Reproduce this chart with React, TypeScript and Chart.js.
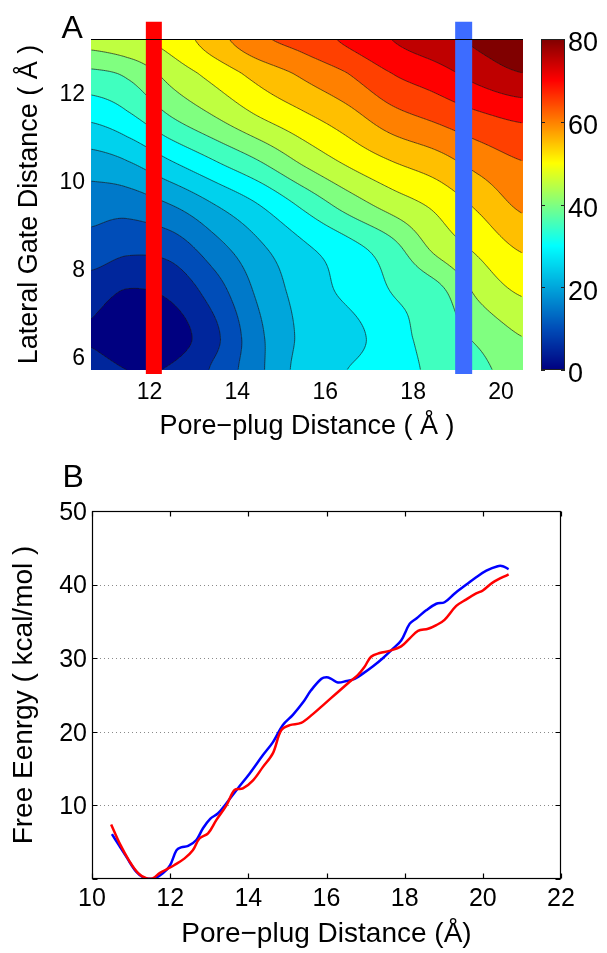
import React, { useEffect, useRef } from 'react';
import { Chart, registerables } from 'chart.js';

Chart.register(...registerables);

const FONT = "'Liberation Sans', Arial, Helvetica, sans-serif";

// ---------------- Panel A: free-energy surface ----------------
const poreGrid = [10.67, 11.5, 12.5, 13.5, 14.5, 15.5, 16.5, 17.5, 18.5, 19.5, 20.5];
const gateGrid = [13.27, 12.5, 11.5, 10.5, 9.5, 8.5, 7.5, 6.5, 5.75];
const energyRow1327 = [47, 49, 52, 58, 64, 67, 71, 75, 78, 81, 83];
const energyRow125 = [39, 41, 47, 52, 57, 61, 65, 70, 73, 77, 80];
const energyRow115 = [31, 34, 40, 45, 50, 54, 58, 63, 66, 69, 71];
const energyRow105 = [23, 25, 30, 35, 40, 46, 51, 55, 58, 62, 65];
const energyRow95 = [17, 17, 20, 25, 30, 36, 42, 47, 51, 56, 61];
const energyRow85 = [13, 11, 12, 18, 24, 29, 33, 38, 46, 51, 55.5];
const energyRow75 = [7, 4.5, 6, 12.5, 21, 27, 31, 35, 38, 46, 50.5];
const energyRow65 = [4.5, 1.5, 2.5, 9, 19, 26, 28, 33, 37, 41, 45];
const energyRow575 = [7, 5, 5.5, 11, 19, 27, 30, 33, 36, 39, 42];
const energySurface = [
  energyRow1327, energyRow125, energyRow115, energyRow105, energyRow95,
  energyRow85, energyRow75, energyRow65, energyRow575,
];
const contourStep = 5;
const colorMax = 80;
const slicePositions = [12.1, 19.15];
const sliceColors = ['#ff0000', '#3d6cff'];
const sliceTop = 13.66;
const sliceBottom = 5.66;
const topXTicks = [12, 14, 16, 18, 20];
const topYTicks = [6, 8, 10, 12];
const colorbarTicks = [0, 20, 40, 60, 80];

// ---------------- Panel B: 1-D free-energy profiles ----------------
const blueX = [10.51, 10.7, 10.88, 11.13, 11.35, 11.56, 11.82, 12.0, 12.16, 12.28, 12.46, 12.67, 12.84, 13.03, 13.22, 13.44, 13.73, 14.03, 14.37, 14.63, 14.88, 15.14, 15.4, 15.6, 15.87, 16.0, 16.12, 16.29, 16.51, 16.72, 16.93, 17.19, 17.44, 17.7, 17.91, 18.13, 18.3, 18.55, 18.81, 19.02, 19.28, 19.58, 19.83, 20.09, 20.38, 20.51, 20.66];
const blueY = [6.1, 4.5, 3.0, 1.0, 0.1, 0.0, 0.8, 1.9, 3.9, 4.3, 4.5, 5.3, 6.9, 8.2, 8.9, 10.3, 12.3, 14.3, 16.8, 18.6, 20.9, 22.3, 24.0, 25.6, 27.2, 27.4, 27.2, 26.7, 26.9, 27.2, 27.9, 28.9, 30.0, 31.3, 32.4, 34.7, 35.4, 36.5, 37.4, 37.6, 38.8, 40.0, 41.0, 41.9, 42.5, 42.5, 42.1];
const redX = [10.49, 10.71, 10.96, 11.18, 11.39, 11.56, 11.73, 11.94, 12.11, 12.37, 12.58, 12.75, 12.97, 13.18, 13.44, 13.65, 13.86, 14.12, 14.37, 14.63, 14.84, 15.06, 15.35, 15.65, 15.95, 16.25, 16.55, 16.8, 16.97, 17.14, 17.36, 17.61, 17.91, 18.13, 18.34, 18.6, 18.81, 19.02, 19.32, 19.58, 19.83, 20.0, 20.26, 20.66];
const redY = [7.4, 4.8, 2.4, 0.8, 0.1, 0.1, 0.8, 1.4, 1.9, 2.8, 3.9, 5.5, 6.2, 8.0, 10.0, 12.1, 12.3, 13.4, 15.2, 17.1, 20.2, 20.9, 21.2, 22.4, 23.8, 25.2, 26.6, 27.7, 28.8, 30.2, 30.7, 31.0, 31.6, 32.7, 33.7, 34.0, 34.5, 35.2, 37.1, 38.0, 38.8, 39.2, 40.3, 41.4];
const bottomXTicks = [10, 12, 14, 16, 18, 20, 22];
const bottomYTicks = [0, 10, 20, 30, 40, 50];
const dottedGridValues = [10, 20, 30, 40];

// ---------------- helpers ----------------
function clamp01(v: number) { return Math.max(0, Math.min(1, v)); }
function jet(t: number): [number, number, number] {
  const r = clamp01(Math.min(4 * t - 1.5, -4 * t + 4.5));
  let g = clamp01(Math.min(4 * t - 0.5, -4 * t + 3.5));
  let b = clamp01(Math.min(4 * t + 0.5, -4 * t + 2.5));
  // slightly muted blues, as in the printed figure
  if (b > 0.5 && r < 1) {
    const k = (b - 0.5) * 2;
    const g0 = g;
    g = g0 + 0.3 * k * (1 - g0) * (1 - r);
    b = 0.5 + (b - 0.5) * (0.44 + 0.56 * g0);
  }
  return [Math.round(r * 255), Math.round(g * 255), Math.round(b * 255)];
}
function fracIndex(arr: number[], v: number) {
  const n = arr.length;
  for (let i = 0; i < n - 1; i++) {
    const a = arr[i], b = arr[i + 1];
    if ((v - a) * (v - b) <= 0) return i + (v - a) / (b - a);
  }
  const first = Math.abs(v - arr[0]) < Math.abs(v - arr[n - 1]);
  return first ? 0 : n - 1;
}
function cr(p0: number, p1: number, p2: number, p3: number, t: number) {
  return 0.5 * (2 * p1 + (-p0 + p2) * t + (2 * p0 - 5 * p1 + 4 * p2 - p3) * t * t + (-p0 + 3 * p1 - 3 * p2 + p3) * t * t * t);
}
function rowInterp(row: number[], u: number) {
  const n = row.length;
  let i = Math.floor(u);
  if (i >= n - 1) i = n - 2;
  if (i < 0) i = 0;
  const t = u - i;
  const g = (k: number) => row[Math.max(0, Math.min(n - 1, k))];
  return cr(g(i - 1), g(i), g(i + 1), g(i + 2), t);
}
function surfaceAt(u: number, v: number) {
  const m = energySurface.length;
  let j = Math.floor(v);
  if (j >= m - 1) j = m - 2;
  if (j < 0) j = 0;
  const t = v - j;
  const r = (k: number) => rowInterp(energySurface[Math.max(0, Math.min(m - 1, k))], u);
  return cr(r(j - 1), r(j), r(j + 1), r(j + 2), t);
}

const contourPlugin = {
  id: 'contourSurface',
  beforeDatasetsDraw(chart: any) {
    const { ctx, chartArea } = chart;
    const xs = chart.scales.x;
    const ys = chart.scales.y;
    const left = Math.round(chartArea.left);
    const top = Math.round(chartArea.top);
    const w = Math.round(chartArea.right) - left;
    const h = Math.round(chartArea.bottom) - top;
    const us: number[] = [];
    for (let i = 0; i < w; i++) us.push(fracIndex(poreGrid, xs.getValueForPixel(left + i + 0.5)));
    const vs: number[] = [];
    for (let j = 0; j < h; j++) vs.push(fracIndex(gateGrid, ys.getValueForPixel(top + j + 0.5)));
    const field = new Float32Array(w * h);
    const img = ctx.createImageData(w, h);
    for (let j = 0; j < h; j++) {
      for (let i = 0; i < w; i++) {
        const val = surfaceAt(us[i], vs[j]);
        field[j * w + i] = val;
        const band = Math.floor(val / contourStep) * contourStep;
        const c = jet(Math.min(band, colorMax) / colorMax);
        const k = (j * w + i) * 4;
        img.data[k] = c[0]; img.data[k + 1] = c[1]; img.data[k + 2] = c[2]; img.data[k + 3] = 255;
      }
    }
    ctx.putImageData(img, left, top);
    ctx.save();
    ctx.beginPath();
    ctx.rect(chartArea.left, chartArea.top, chartArea.right - chartArea.left, chartArea.bottom - chartArea.top);
    ctx.clip();
    ctx.strokeStyle = 'rgba(25,25,25,0.85)';
    ctx.lineWidth = 0.8;
    const step = 2;
    const nx = Math.floor((w - 1) / step);
    const ny = Math.floor((h - 1) / step);
    const F = (i: number, j: number) => field[(j * step) * w + i * step];
    for (let L = contourStep; L <= colorMax + contourStep; L += contourStep) {
      ctx.beginPath();
      for (let j = 0; j < ny; j++) {
        for (let i = 0; i < nx; i++) {
          const a = F(i, j), b = F(i + 1, j), c = F(i + 1, j + 1), d = F(i, j + 1);
          const pts: [number, number][] = [];
          const x0 = left + i * step + 0.5, y0 = top + j * step + 0.5;
          if ((a - L) * (b - L) < 0) pts.push([x0 + step * (L - a) / (b - a), y0]);
          if ((b - L) * (c - L) < 0) pts.push([x0 + step, y0 + step * (L - b) / (c - b)]);
          if ((d - L) * (c - L) < 0) pts.push([x0 + step * (L - d) / (c - d), y0 + step]);
          if ((a - L) * (d - L) < 0) pts.push([x0, y0 + step * (L - a) / (d - a)]);
          if (pts.length >= 2) {
            ctx.moveTo(pts[0][0], pts[0][1]);
            ctx.lineTo(pts[1][0], pts[1][1]);
            if (pts.length === 4) {
              ctx.moveTo(pts[2][0], pts[2][1]);
              ctx.lineTo(pts[3][0], pts[3][1]);
            }
          }
        }
      }
      ctx.stroke();
    }
    ctx.restore();
  },
  afterDatasetsDraw(chart: any) {
    const { ctx, chartArea } = chart;
    ctx.save();
    ctx.strokeStyle = '#000';
    ctx.lineWidth = 1;
    ctx.beginPath();
    ctx.moveTo(chartArea.left, chartArea.top + 0.5);
    ctx.lineTo(chartArea.right, chartArea.top + 0.5);
    ctx.stroke();
    ctx.restore();
  },
  afterDraw(chart: any) {
    const { ctx, chartArea } = chart;
    const cb = chart.scales.cb;
    const x0 = chartArea.right + 18;
    const bw = 24;
    ctx.save();
    for (let y = Math.round(cb.top); y < Math.round(cb.bottom); y++) {
      const v = cb.getValueForPixel(y + 0.5);
      const c = jet(Math.max(0, Math.min(1, v / colorMax)));
      ctx.fillStyle = `rgb(${c[0]},${c[1]},${c[2]})`;
      ctx.fillRect(x0, y, bw, 1);
    }
    ctx.strokeStyle = '#222';
    ctx.lineWidth = 1;
    ctx.strokeRect(x0 + 0.5, Math.round(cb.top) + 0.5, bw - 1, Math.round(cb.bottom) - Math.round(cb.top) - 1);
    ctx.beginPath();
    for (const t of colorbarTicks) {
      const py = Math.round(cb.getPixelForValue(t)) + 0.5;
      ctx.moveTo(x0, py); ctx.lineTo(x0 + 4, py);
      ctx.moveTo(x0 + bw - 4, py); ctx.lineTo(x0 + bw, py);
    }
    ctx.stroke();
    ctx.restore();
  },
};

const framePlugin = {
  id: 'matlabFrame',
  beforeDatasetsDraw(chart: any) {
    const { ctx, chartArea } = chart;
    const ys = chart.scales.y;
    ctx.save();
    ctx.strokeStyle = '#8a8a8a';
    ctx.lineWidth = 1;
    ctx.setLineDash([1, 3]);
    ctx.beginPath();
    for (const v of dottedGridValues) {
      const py = Math.round(ys.getPixelForValue(v)) + 0.5;
      ctx.moveTo(chartArea.left, py);
      ctx.lineTo(chartArea.right, py);
    }
    ctx.stroke();
    ctx.restore();
  },
  afterDatasetsDraw(chart: any) {
    const { ctx, chartArea } = chart;
    const xs = chart.scales.x;
    const ys = chart.scales.y;
    const l = Math.round(chartArea.left) + 0.5, r = Math.round(chartArea.right) - 0.5;
    const t = Math.round(chartArea.top) + 0.5, b = Math.round(chartArea.bottom) - 0.5;
    ctx.save();
    ctx.strokeStyle = '#000';
    ctx.lineWidth = 1.2;
    ctx.strokeRect(l, t, r - l, b - t);
    ctx.beginPath();
    const tl = 5;
    for (const v of bottomXTicks) {
      const px = Math.round(xs.getPixelForValue(v)) + 0.5;
      ctx.moveTo(px, b); ctx.lineTo(px, b - tl);
      ctx.moveTo(px, t); ctx.lineTo(px, t + tl);
    }
    for (const v of bottomYTicks) {
      const py = Math.round(ys.getPixelForValue(v)) + 0.5;
      ctx.moveTo(l, py); ctx.lineTo(l + tl, py);
      ctx.moveTo(r, py); ctx.lineTo(r - tl, py);
    }
    ctx.stroke();
    ctx.restore();
  },
};

const noPadV = (s: any) => { s.paddingTop = 0; s.paddingBottom = 0; };
const noPadH = (s: any) => { s.paddingLeft = 0; s.paddingRight = 0; };

function ContourPanel() {
  const ref = useRef<HTMLCanvasElement | null>(null);
  useEffect(() => {
    if (!ref.current) return;
    const chart = new Chart(ref.current, {
      type: 'scatter',
      data: {
        datasets: slicePositions.map((p, k) => ({
          data: [{ x: p, y: sliceTop }, { x: p, y: sliceBottom }],
          showLine: true,
          borderColor: sliceColors[k],
          borderWidth: k === 0 ? 16 : 17,
          borderCapStyle: 'butt' as const,
          pointRadius: 0,
          clip: false as any,
        })),
      },
      options: {
        animation: false,
        responsive: false,
        devicePixelRatio: 1,
        events: [],
        layout: { padding: { top: 39, left: 0, right: 0, bottom: 0 } },
        plugins: { legend: { display: false }, tooltip: { enabled: false } },
        scales: {
          x: {
            type: 'linear', position: 'bottom', min: 10.67, max: 20.5,
            afterBuildTicks: (s: any) => { s.ticks = topXTicks.map((v) => ({ value: v })); },
            afterFit: (s: any) => { s.height = 80; noPadH(s); },
            grid: { display: false, drawTicks: false },
            border: { display: false },
            ticks: { font: { size: 23, family: FONT }, color: '#000', padding: 9, maxRotation: 0 },
            title: { display: true, text: 'Pore\u2212plug Distance ( Å )', color: '#000', font: { size: 27, family: FONT }, padding: { top: 0, bottom: 7 } },
          },
          y: {
            type: 'linear', position: 'left', min: 5.75, max: 13.27,
            afterBuildTicks: (s: any) => { s.ticks = topYTicks.map((v) => ({ value: v })); },
            afterFit: (s: any) => { s.width = 91; noPadV(s); },
            grid: { display: false, drawTicks: false },
            border: { display: false },
            ticks: { font: { size: 23, family: FONT }, color: '#000', padding: 6 },
            title: { display: true, text: 'Lateral Gate Distance ( Å )', color: '#000', font: { size: 27, family: FONT }, padding: { top: 13, bottom: 0 } },
          },
          cb: {
            type: 'linear', position: 'right', min: 0, max: colorMax,
            afterBuildTicks: (s: any) => { s.ticks = colorbarTicks.map((v) => ({ value: v })); },
            afterFit: (s: any) => { s.width = 84; noPadV(s); },
            grid: { display: false, drawTicks: false },
            border: { display: false },
            ticks: { font: { size: 27, family: FONT }, color: '#000', padding: 45, labelOffset: 5 },
          },
        },
      },
      plugins: [contourPlugin],
    } as any);
    return () => chart.destroy();
  }, []);
  return <canvas ref={ref} width={607} height={450} style={{ position: 'absolute', left: 0, top: 0 }} />;
}

function ProfilePanel() {
  const ref = useRef<HTMLCanvasElement | null>(null);
  useEffect(() => {
    if (!ref.current) return;
    const chart = new Chart(ref.current, {
      type: 'scatter',
      data: {
        datasets: [
          {
            label: 'red',
            data: redX.map((x, i) => ({ x, y: redY[i] })),
            showLine: true, borderColor: '#ff0000', borderWidth: 2.5, pointRadius: 0, tension: 0.35,
          },
          {
            label: 'blue',
            data: blueX.map((x, i) => ({ x, y: blueY[i] })),
            showLine: true, borderColor: '#0000ff', borderWidth: 2.5, pointRadius: 0, tension: 0.35,
          },
        ],
      },
      options: {
        animation: false,
        responsive: false,
        devicePixelRatio: 1,
        events: [],
        layout: { padding: { top: 61, left: 0, right: 46, bottom: 0 } },
        plugins: { legend: { display: false }, tooltip: { enabled: false } },
        scales: {
          x: {
            type: 'linear', position: 'bottom', min: 10, max: 22,
            afterBuildTicks: (s: any) => { s.ticks = bottomXTicks.map((v) => ({ value: v })); },
            afterFit: (s: any) => { s.height = 74; noPadH(s); },
            grid: { display: false, drawTicks: false },
            border: { display: false },
            ticks: { font: { size: 25, family: FONT }, color: '#000', padding: 5, maxRotation: 0 },
            title: { display: true, text: 'Pore\u2212plug Distance (Å)', color: '#000', font: { size: 28, family: FONT }, padding: { top: 0, bottom: 2 } },
          },
          y: {
            type: 'linear', position: 'left', min: 0, max: 50,
            afterBuildTicks: (s: any) => { s.ticks = bottomYTicks.map((v) => ({ value: v })); },
            afterFit: (s: any) => { s.width = 92; noPadV(s); },
            grid: { display: false, drawTicks: false },
            border: { display: false },
            ticks: {
              font: { size: 25, family: FONT }, color: '#000', padding: 5, labelOffset: 2,
              callback: (v: any) => (v === 0 ? '' : String(v)),
            },
            title: { display: true, text: 'Free Eenrgy ( kcal/mol )', color: '#000', font: { size: 28, family: FONT }, padding: { top: 7, bottom: 0 } },
          },
        },
      },
      plugins: [framePlugin],
    } as any);
    return () => chart.destroy();
  }, []);
  return <canvas ref={ref} width={607} height={503} style={{ position: 'absolute', left: 0, top: 450 }} />;
}

export default function App() {
  const letter: React.CSSProperties = {
    position: 'absolute', fontFamily: FONT, fontSize: 32, lineHeight: '32px', color: '#000', margin: 0,
  };
  return (
    <div style={{ position: 'absolute', left: 0, top: 0, width: 607, height: 953, background: '#fff' }}>
      <ContourPanel />
      <ProfilePanel />
      <div style={{ ...letter, left: 61.5, top: 11 }}>A</div>
      <div style={{ ...letter, left: 62.5, top: 459.5 }}>B</div>
    </div>
  );
}
